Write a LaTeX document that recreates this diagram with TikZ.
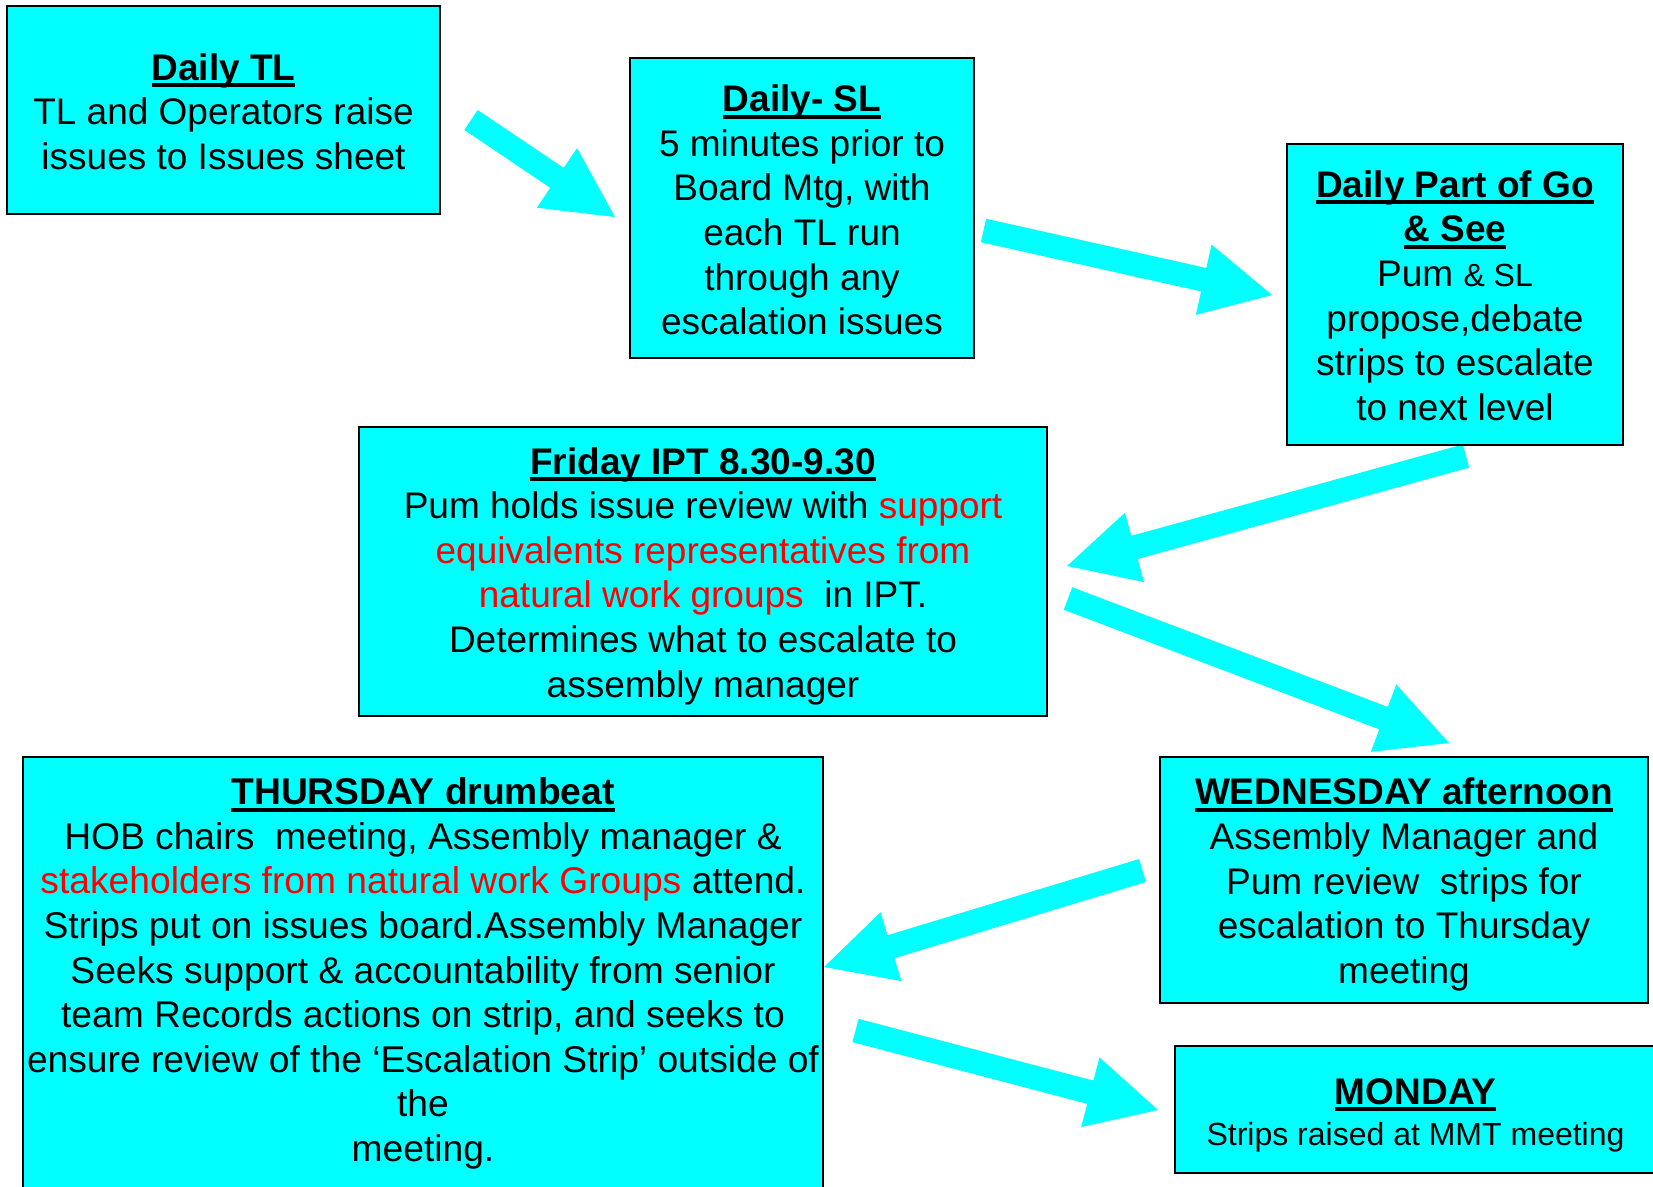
\documentclass[tikz,border=0pt]{standalone}
\usepackage{fontspec}
\setmainfont{Liberation Sans}
\usetikzlibrary{calc}
\definecolor{boxcyan}{RGB}{0,255,255}
\definecolor{hotred}{RGB}{255,0,0}
% bold heading with a heavy underline
\newcommand\ulbf[1]{\setbox0=\hbox{\bfseries #1}\rlap{\rule[-7pt]{\wd0}{4pt}}\box0}
\newcommand\rd[1]{\textcolor{hotred}{#1}}
% wide block arrow from tail #1 to tip #2
\newcommand\blockarrow[2]{%
  \coordinate (ba-base) at ($(#2)!70pt!(#1)$);
  \fill[arrowfill] ($(#1)!12pt!90:(#2)$)
    -- ($(ba-base)!12pt!-90:(#1)$)
    -- ($(ba-base)!36pt!-90:(#1)$)
    -- (#2)
    -- ($(ba-base)!36pt!90:(#1)$)
    -- ($(ba-base)!12pt!90:(#1)$)
    -- ($(#1)!12pt!-90:(#2)$) -- cycle;}
\begin{document}
\begin{tikzpicture}[x=1pt,y=-1pt,
  stagebox/.style={draw=black, fill=boxcyan, line width=2.5pt, inner sep=0pt},
  stagetext/.style={inner sep=0pt, align=center, font=\fontsize{37}{44.6}\selectfont},
  arrowfill/.style={fill=boxcyan}]
\useasboundingbox (0,0) rectangle (1653,1186);
\clip (0,0) rectangle (1653,1186);

% arrow ends
\coordinate (a1t) at (471,120);    \coordinate (a1h) at (615,217);
\coordinate (a2t) at (983.5,230.5); \coordinate (a2h) at (1272,295);
\coordinate (a3t) at (1466,456);   \coordinate (a3h) at (1067,566);
\coordinate (a4t) at (1068,598.5); \coordinate (a4h) at (1449,743);
\coordinate (a5t) at (1142.5,870.5); \coordinate (a5h) at (824,967);
\coordinate (a6t) at (855.5,1030.5); \coordinate (a6h) at (1158,1110);

\blockarrow{a1t}{a1h}
\blockarrow{a2t}{a2h}
\blockarrow{a3t}{a3h}
\blockarrow{a4t}{a4h}
\blockarrow{a5t}{a5h}
\blockarrow{a6t}{a6h}

% stage boxes
\node[stagebox, minimum width=433pt, minimum height=208pt] (dtl) at (223.5,110) {};
\node[stagebox, minimum width=344pt, minimum height=300pt] (dsl) at (802,208) {};
\node[stagebox, minimum width=336pt, minimum height=301pt] (gos) at (1455,294.5) {};
\node[stagebox, minimum width=688pt, minimum height=289pt] (fri) at (703,571.5) {};
\node[stagebox, minimum width=800pt, minimum height=433pt] (thu) at (423,973.5) {};
\node[stagebox, minimum width=488pt, minimum height=246pt] (wed) at (1404,880) {};
\node[stagebox, minimum width=481pt, minimum height=127pt] (mon) at (1415.5,1109.5) {};

% box texts
\node[stagetext, yshift=-1.5pt] (dtl-t) at (dtl)
  {\ulbf{Daily TL}\\TL and Operators raise\\issues to Issues sheet};

\node[stagetext, yshift=-2pt] (dsl-t) at (dsl)
  {\ulbf{Daily- SL}\\5 minutes prior to\\Board Mtg, with\\each TL run\\through any\\escalation issues};

\node[stagetext, yshift=-1pt] (gos-t) at (gos)
  {\ulbf{Daily Part of Go}\\\ulbf{\& See}\\Pum {\fontsize{32}{44.6}\selectfont\& SL}\\propose,debate\\strips to escalate\\to next level};

\node[stagetext, yshift=-4.5pt] (fri-t) at (fri)
  {\ulbf{Friday IPT 8.30-9.30}\\Pum holds issue review with \rd{support}\\\rd{equivalents representatives from}\\\rd{natural work groups}\ \ in IPT.\\Determines what to escalate to\\assembly manager};

\node[stagetext, font=\fontsize{37.2}{44.6}\selectfont] (thu-t) at (thu)
  {\ulbf{THURSDAY drumbeat}\\HOB chairs\ \ meeting, Assembly manager \&\\\rd{stakeholders from natural work Groups} attend.\\Strips put on issues board.Assembly Manager\\Seeks support \& accountability from senior\\team Records actions on strip, and seeks to\\ensure review of the ‘Escalation Strip’ outside of\\the\\meeting.};

\node[stagetext, yshift=-4.5pt] (wed-t) at (wed)
  {\ulbf{WEDNESDAY afternoon}\\Assembly Manager and\\Pum review\ \ strips for\\escalation to Thursday\\meeting};

\node[stagetext, yshift=-6pt, font=\fontsize{37}{41.5}\selectfont] (mon-t) at (mon)
  {\ulbf{MONDAY}\\{\fontsize{32}{41.5}\selectfont Strips raised at MMT meeting}};
\end{tikzpicture}
\end{document}
